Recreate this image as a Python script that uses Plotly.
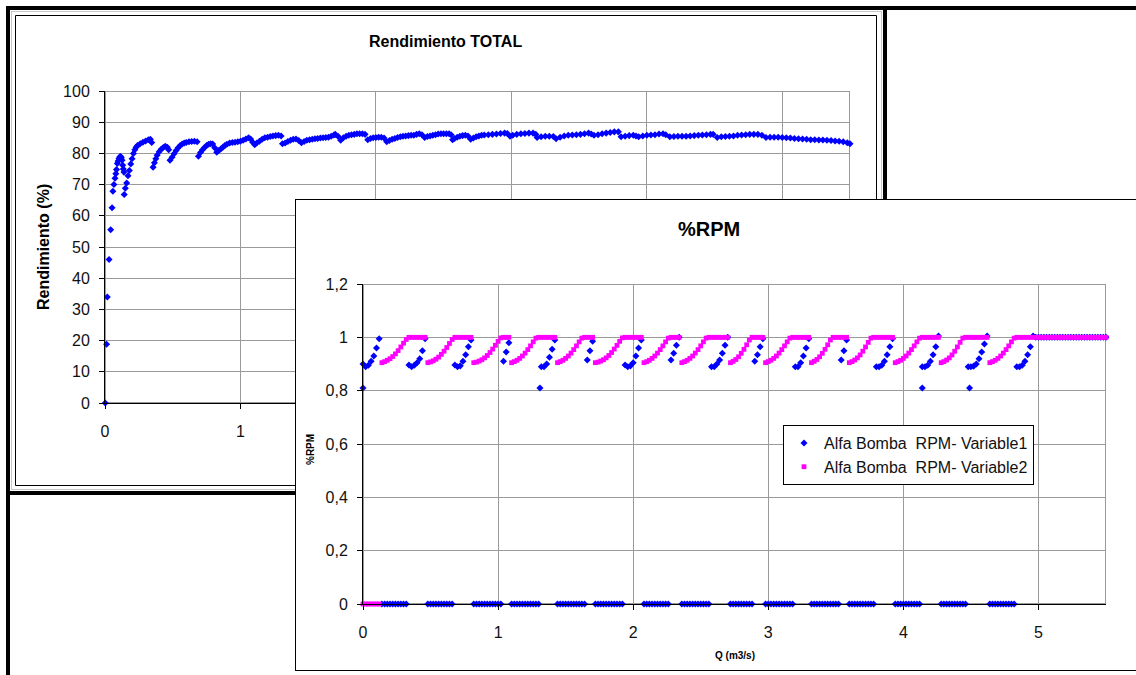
import plotly.graph_objects as go

W, H = 1136, 675

# ---------------- Chart 1: Rendimiento TOTAL ----------------
REND_Q = [
    0.002, 0.012, 0.017, 0.030, 0.042, 0.052, 0.058, 0.066, 0.074, 0.080,
    0.085, 0.091, 0.097, 0.103, 0.110, 0.116, 0.121, 0.126, 0.131, 0.135,
    0.140, 0.142, 0.150, 0.160, 0.170, 0.180, 0.190, 0.200, 0.210, 0.220,
    0.230, 0.240, 0.260, 0.280, 0.300, 0.320, 0.335, 0.345, 0.355, 0.365,
    0.375, 0.385, 0.400, 0.415, 0.430, 0.445, 0.460, 0.470, 0.480, 0.495,
    0.510, 0.525, 0.540, 0.555, 0.570, 0.585, 0.600, 0.620, 0.640, 0.660,
    0.680, 0.690, 0.705, 0.720, 0.735, 0.750, 0.765, 0.780, 0.795, 0.810,
    0.825, 0.840, 0.855, 0.870, 0.885, 0.900, 0.920, 0.940, 0.960, 0.980,
    1.000, 1.020, 1.040, 1.060, 1.075, 1.090, 1.105, 1.120, 1.140, 1.160,
    1.180, 1.200, 1.220, 1.240, 1.260, 1.280, 1.300, 1.310, 1.330, 1.350,
    1.370, 1.390, 1.410, 1.430, 1.450, 1.470, 1.490, 1.510, 1.530, 1.550,
    1.570, 1.590, 1.610, 1.630, 1.650, 1.670, 1.690, 1.700, 1.720, 1.740,
    1.760, 1.780, 1.800, 1.820, 1.840, 1.860, 1.880, 1.900, 1.920, 1.940,
    1.960, 1.980, 2.000, 2.020, 2.040, 2.060, 2.080, 2.100, 2.120, 2.140,
    2.160, 2.180, 2.200, 2.220, 2.240, 2.260, 2.280, 2.300, 2.320, 2.340,
    2.360, 2.380, 2.400, 2.420, 2.440, 2.460, 2.480, 2.500, 2.520, 2.540,
    2.555, 2.566, 2.580, 2.600, 2.620, 2.640, 2.660, 2.680, 2.700, 2.720,
    2.740, 2.760, 2.780, 2.800, 2.830, 2.860, 2.890, 2.920, 2.950, 2.970,
    2.990, 3.010, 3.040, 3.070, 3.100, 3.130, 3.160, 3.180, 3.190, 3.220,
    3.250, 3.280, 3.310, 3.330, 3.360, 3.390, 3.420, 3.450, 3.480, 3.510,
    3.540, 3.570, 3.590, 3.610, 3.640, 3.670, 3.700, 3.730, 3.760, 3.790,
    3.810, 3.840, 3.870, 3.900, 3.920, 3.940, 3.970, 4.000, 4.030, 4.060,
    4.090, 4.120, 4.140, 4.170, 4.200, 4.230, 4.260, 4.290, 4.320, 4.350,
    4.380, 4.410, 4.440, 4.470, 4.490, 4.520, 4.550, 4.580, 4.610, 4.640,
    4.670, 4.700, 4.730, 4.760, 4.790, 4.820, 4.850, 4.880, 4.910, 4.940,
    4.970, 5.000, 5.030, 5.060, 5.090, 5.120, 5.150, 5.180, 5.210, 5.240,
    5.270, 5.300, 5.330, 5.360, 5.390, 5.420, 5.450, 5.480, 5.500,
]
REND = [
    0.0, 18.8, 34.0, 46.0, 55.5, 62.6, 67.9, 70.0, 72.0, 73.5,
    74.8, 76.8, 77.6, 78.4, 78.9, 79.0, 78.6, 77.8, 76.2, 75.0,
    74.0, 66.8, 68.8, 70.5, 72.8, 74.5, 76.6, 78.3, 80.0, 81.2,
    82.0, 82.5, 83.1, 83.6, 84.0, 84.4, 84.5, 83.5, 75.6, 77.0,
    78.3, 79.4, 80.5, 81.3, 81.9, 82.3, 82.0, 81.2, 77.8, 78.8,
    79.9, 80.9, 81.8, 82.5, 83.0, 83.3, 83.5, 83.7, 83.8, 83.9,
    83.7, 79.1, 80.3, 81.2, 81.9, 82.5, 82.9, 83.1, 83.0, 81.8,
    80.4, 80.9, 81.4, 82.0, 82.5, 82.9, 83.3, 83.5, 83.6, 83.7,
    83.9, 84.2, 84.6, 85.0, 84.6, 83.6, 82.8, 83.3, 83.9, 84.5,
    85.0, 85.2, 85.4, 85.6, 85.7, 85.8, 85.6, 83.1, 83.3, 83.8,
    84.2, 84.5, 84.6, 84.1, 83.4, 83.8, 84.2, 84.4, 84.5, 84.7,
    84.8, 84.9, 85.0, 85.1, 85.2, 85.5, 85.9, 86.1, 85.5, 84.2,
    85.0, 85.5, 85.8, 86.0, 86.1, 86.3, 86.3, 86.3, 86.1, 84.4,
    84.8, 85.0, 85.1, 85.2, 85.2, 84.9, 83.7, 84.1, 84.5, 84.8,
    85.1, 85.3, 85.5, 85.6, 85.7, 85.8, 85.8, 86.1, 86.3, 86.0,
    85.1, 85.4, 85.6, 85.8, 86.0, 86.2, 86.3, 86.3, 86.3, 86.3,
    86.0, 84.4, 84.8, 85.2, 85.5, 85.7, 85.8, 85.6, 84.5, 84.9,
    85.3, 85.6, 85.8, 85.9, 86.0, 86.1, 86.2, 86.4, 86.5, 86.4,
    85.5, 85.8, 86.1, 86.3, 86.4, 86.5, 86.5, 86.1, 85.1, 85.3,
    85.5, 85.5, 85.4, 84.7, 85.2, 85.6, 85.8, 85.9, 86.0, 86.1,
    86.3, 86.5, 86.2, 85.8, 86.0, 86.3, 86.5, 86.7, 86.9, 86.9,
    85.3, 85.5, 85.7, 85.8, 85.6, 85.3, 85.6, 85.8, 85.9, 86.0,
    86.2, 86.3, 86.0, 85.3, 85.4, 85.5, 85.5, 85.5, 85.6, 85.7,
    85.8, 85.9, 86.0, 86.1, 86.1, 85.1, 85.3, 85.4, 85.5, 85.6,
    85.8, 85.9, 86.0, 86.1, 86.1, 86.1, 85.8, 85.1, 85.2, 85.2,
    85.2, 85.1, 85.0, 84.9, 84.8, 84.7, 84.6, 84.5, 84.4, 84.4,
    84.3, 84.3, 84.2, 84.1, 84.0, 83.9, 83.7, 83.4, 83.1,
]
REND_XTICKS = [0, 1, 2, 3, 4, 5]
REND_YTICKS = [0, 10, 20, 30, 40, 50, 60, 70, 80, 90, 100]

# ---------------- Chart 2: %RPM ----------------
Q_RPM = [
    0.00, 0.02, 0.04, 0.06, 0.08, 0.10, 0.12, 0.14, 0.16, 0.18,
    0.20, 0.22, 0.24, 0.26, 0.28, 0.30, 0.32, 0.34, 0.36, 0.38,
    0.40, 0.42, 0.44, 0.46, 0.48, 0.50, 0.52, 0.54, 0.56, 0.58,
    0.60, 0.62, 0.64, 0.66, 0.68, 0.70, 0.72, 0.74, 0.76, 0.78,
    0.80, 0.82, 0.84, 0.86, 0.88, 0.90, 0.92, 0.94, 0.96, 0.98,
    1.00, 1.02, 1.04, 1.06, 1.08, 1.10, 1.12, 1.14, 1.16, 1.18,
    1.20, 1.22, 1.24, 1.26, 1.28, 1.30, 1.32, 1.34, 1.36, 1.38,
    1.40, 1.42, 1.44, 1.46, 1.48, 1.50, 1.52, 1.54, 1.56, 1.58,
    1.60, 1.62, 1.64, 1.66, 1.68, 1.70, 1.72, 1.74, 1.76, 1.78,
    1.80, 1.82, 1.84, 1.86, 1.88, 1.90, 1.92, 1.94, 1.96, 1.98,
    2.00, 2.02, 2.04, 2.06, 2.08, 2.10, 2.12, 2.14, 2.16, 2.18,
    2.20, 2.22, 2.24, 2.26, 2.28, 2.30, 2.32, 2.34, 2.36, 2.38,
    2.40, 2.42, 2.44, 2.46, 2.48, 2.50, 2.52, 2.54, 2.56, 2.58,
    2.60, 2.62, 2.64, 2.66, 2.68, 2.70, 2.72, 2.74, 2.76, 2.78,
    2.80, 2.82, 2.84, 2.86, 2.88, 2.90, 2.92, 2.94, 2.96, 2.98,
    3.00, 3.02, 3.04, 3.06, 3.08, 3.10, 3.12, 3.14, 3.16, 3.18,
    3.20, 3.22, 3.24, 3.26, 3.28, 3.30, 3.32, 3.34, 3.36, 3.38,
    3.40, 3.42, 3.44, 3.46, 3.48, 3.50, 3.52, 3.54, 3.56, 3.58,
    3.60, 3.62, 3.64, 3.66, 3.68, 3.70, 3.72, 3.74, 3.76, 3.78,
    3.80, 3.82, 3.84, 3.86, 3.88, 3.90, 3.92, 3.94, 3.96, 3.98,
    4.00, 4.02, 4.04, 4.06, 4.08, 4.10, 4.12, 4.14, 4.16, 4.18,
    4.20, 4.22, 4.24, 4.26, 4.28, 4.30, 4.32, 4.34, 4.36, 4.38,
    4.40, 4.42, 4.44, 4.46, 4.48, 4.50, 4.52, 4.54, 4.56, 4.58,
    4.60, 4.62, 4.64, 4.66, 4.68, 4.70, 4.72, 4.74, 4.76, 4.78,
    4.80, 4.82, 4.84, 4.86, 4.88, 4.90, 4.92, 4.94, 4.96, 4.98,
    5.00, 5.02, 5.04, 5.06, 5.08, 5.10, 5.12, 5.14, 5.16, 5.18,
    5.20, 5.22, 5.24, 5.26, 5.28, 5.30, 5.32, 5.34, 5.36, 5.38,
    5.40, 5.42, 5.44, 5.46, 5.48, 5.50,
]
# Variable 1 (blue): pump 1 speed ratio, 0 while pump 2 ramps
RPM_VAR1 = [
    0.900, 0.890, 0.895, 0.910, 0.930, 0.960, 0.995,
    0, 0, 0, 0, 0, 0, 0, 0, 0, 0,
    0.896, 0.890, 0.895, 0.905, 0.920, 0.950, 0.995,
    0, 0, 0, 0, 0, 0, 0, 0, 0, 0,
    0.896, 0.890, 0.893, 0.910, 0.935, 0.965, 0.990,
    0, 0, 0, 0, 0, 0, 0, 0, 0, 0, 0,
    0.910, 0.945, 0.980,
    0, 0, 0, 0, 0, 0, 0, 0, 0, 0, 0,
    0.890, 0.890, 0.900, 0.925, 0.955, 0.990,
    0, 0, 0, 0, 0, 0, 0, 0, 0, 0, 0,
    0.915, 0.950, 0.985,
    0, 0, 0, 0, 0, 0, 0, 0, 0, 0, 0,
    0.896, 0.890, 0.893, 0.905, 0.930, 0.960, 0.990,
    0, 0, 0, 0, 0, 0, 0, 0, 0, 0,
    0.915, 0.940, 0.970, 1.000,
    0, 0, 0, 0, 0, 0, 0, 0, 0, 0, 0,
    0.890, 0.890, 0.900, 0.915, 0.940, 0.970, 1.000,
    0, 0, 0, 0, 0, 0, 0, 0, 0,
    0.910, 0.935, 0.965, 0.995,
    0, 0, 0, 0, 0, 0, 0, 0, 0, 0, 0,
    0.890, 0.890, 0.905, 0.930, 0.960, 0.995,
    0, 0, 0, 0, 0, 0, 0, 0, 0, 0, 0,
    0.915, 0.950, 0.990,
    0, 0, 0, 0, 0, 0, 0, 0, 0, 0,
    0.890, 0.890, 0.895, 0.910, 0.935, 0.965, 0.995,
    0, 0, 0, 0, 0, 0, 0, 0, 0, 0,
    0.890, 0.890, 0.895, 0.910, 0.935, 0.965, 1.005,
    0, 0, 0, 0, 0, 0, 0, 0, 0, 0,
    0.890, 0.890, 0.892, 0.900, 0.920, 0.945, 0.975, 1.005,
    0, 0, 0, 0, 0, 0, 0, 0, 0, 0,
    0.890, 0.890, 0.895, 0.910, 0.935, 0.965, 1.005,
    1, 1, 1, 1, 1, 1, 1, 1, 1, 1, 1, 1, 1, 1, 1, 1, 1, 1, 1, 1,
    1, 1, 1, 1, 1, 1, 1,
]
# isolated blue points at 0.81
Q_OUT = [0.00, 1.31, 4.14, 4.49]
RPM_OUT = [0.81, 0.81, 0.81, 0.81]
# Variable 2 (magenta)
RPM_VAR2 = [
    0, 0, 0, 0, 0, 0, 0,
    0.905, 0.909, 0.914, 0.920, 0.928, 0.938, 0.950, 0.964, 0.978, 0.992,
    1, 1, 1, 1, 1, 1, 1,
    0.905, 0.908, 0.912, 0.918, 0.926, 0.936, 0.948, 0.962, 0.977, 0.992,
    1, 1, 1, 1, 1, 1, 1,
    0.905, 0.907, 0.911, 0.916, 0.923, 0.932, 0.943, 0.956, 0.970, 0.985, 0.998,
    1, 1, 1,
    0.905, 0.909, 0.914, 0.921, 0.930, 0.941, 0.954, 0.968, 0.983, 0.997, 1,
    1, 1, 1, 1, 1, 1,
    0.905, 0.909, 0.914, 0.921, 0.930, 0.941, 0.954, 0.968, 0.983, 0.997, 1,
    1, 1, 1,
    0.905, 0.907, 0.911, 0.916, 0.923, 0.932, 0.943, 0.956, 0.970, 0.985, 0.998,
    1, 1, 1, 1, 1, 1, 1,
    0.905, 0.909, 0.914, 0.921, 0.930, 0.941, 0.954, 0.968, 0.983, 0.997,
    1, 1, 1, 1,
    0.905, 0.909, 0.914, 0.921, 0.930, 0.941, 0.954, 0.968, 0.983, 0.997, 1,
    1, 1, 1, 1, 1, 1, 1,
    0.905, 0.910, 0.917, 0.927, 0.940, 0.955, 0.972, 0.990, 1,
    1, 1, 1, 1,
    0.905, 0.909, 0.914, 0.921, 0.930, 0.941, 0.954, 0.968, 0.983, 0.997, 1,
    1, 1, 1, 1, 1, 1,
    0.905, 0.910, 0.917, 0.927, 0.940, 0.955, 0.972, 0.990, 1, 1, 1,
    1, 1, 1,
    0.905, 0.909, 0.915, 0.923, 0.934, 0.948, 0.964, 0.981, 0.997, 1,
    1, 1, 1, 1, 1, 1, 1,
    0.905, 0.909, 0.914, 0.921, 0.930, 0.941, 0.954, 0.968, 0.983, 0.997,
    1, 1, 1, 1, 1, 1, 1,
    0.905, 0.909, 0.915, 0.923, 0.934, 0.948, 0.964, 0.981, 0.997, 1,
    1, 1, 1, 1, 1, 1, 1, 1,
    0.905, 0.909, 0.914, 0.921, 0.930, 0.941, 0.954, 0.968, 0.983, 0.997,
    1, 1, 1, 1, 1, 1, 1,
    1, 1, 1, 1, 1, 1, 1, 1, 1, 1, 1, 1, 1, 1, 1, 1, 1, 1, 1, 1,
    1, 1, 1, 1, 1, 1, 1,
]
RPM_XTICKS = [0, 1, 2, 3, 4, 5]
RPM_YTICKS = [0, 0.2, 0.4, 0.6, 0.8, 1.0, 1.2]
SERIES_NAMES = ["Alfa Bomba\u00a0 RPM- Variable1", "Alfa Bomba\u00a0 RPM- Variable2"]

FONT = "Liberation Sans, Arial, sans-serif"
BLUE = "#0000FF"
MAGENTA = "#FF00FF"
GRID = "#9a9a9a"


def fx(p):
    return p / W


def fy(p):
    return 1 - p / H


fig = go.Figure()
fig.add_trace(go.Scatter(
    x=REND_Q, y=REND, mode="markers", xaxis="x", yaxis="y",
    marker=dict(symbol="diamond", size=5.4, color=BLUE, line=dict(width=0)),
    showlegend=False, cliponaxis=False, hoverinfo="skip"))
# empty trace to create the background panel subplot of the second chart
fig.add_trace(go.Scatter(x=[], y=[], xaxis="x2", yaxis="y2", showlegend=False, hoverinfo="skip"))
fig.add_trace(go.Scatter(
    x=Q_RPM + Q_OUT, y=RPM_VAR1 + RPM_OUT, mode="markers", xaxis="x3", yaxis="y3",
    name=SERIES_NAMES[0],
    marker=dict(symbol="diamond", size=5.4, color=BLUE, line=dict(width=0)),
    cliponaxis=False, hoverinfo="skip"))
fig.add_trace(go.Scatter(
    x=Q_RPM, y=RPM_VAR2, mode="markers", xaxis="x3", yaxis="y3",
    name=SERIES_NAMES[1],
    marker=dict(symbol="square", size=4.8, color=MAGENTA, line=dict(width=0)),
    cliponaxis=False, hoverinfo="skip"))

tickfont = dict(family=FONT, size=16, color="#111111")
common = dict(showgrid=True, gridcolor=GRID, gridwidth=1, zeroline=False,
              showline=True, linecolor="black", linewidth=1, automargin=False,
              ticks="outside", ticklen=5, tickcolor="black", tickwidth=1,
              tickfont=tickfont, fixedrange=True)
dummy = dict(showgrid=False, zeroline=False, showticklabels=False, ticks="",
             showline=True, linecolor="black", linewidth=1, fixedrange=True,
             automargin=False, range=[0, 1])

fig.update_layout(
    template="none",
    width=W, height=H, autosize=False,
    margin=dict(l=0, r=0, t=0, b=0, pad=0, autoexpand=False),
    paper_bgcolor="white", plot_bgcolor="white",
    separators=",.",
    font=dict(family=FONT, color="black"),
    xaxis=dict(domain=[fx(105), fx(850)], range=[0, 5.5], anchor="y",
               tickmode="array", tickvals=REND_XTICKS, ticklabelstandoff=9, **common),
    yaxis=dict(domain=[fy(403), fy(91)], range=[0, 100], anchor="x",
               tickmode="array", tickvals=REND_YTICKS, ticklabelstandoff=6, **common),
    xaxis2=dict(domain=[fx(296), 1], anchor="y2", mirror=True, **dummy),
    yaxis2=dict(domain=[fy(670), fy(200)], anchor="x2", mirror=False, **dummy),
    xaxis3=dict(domain=[fx(363), fx(1106)], range=[0, 5.5], anchor="y3",
                tickmode="array", tickvals=RPM_XTICKS, ticklabelstandoff=9, **common),
    yaxis3=dict(domain=[fy(604), fy(284)], range=[0, 1.2], anchor="x3",
                tickmode="array", tickvals=RPM_YTICKS, ticklabelstandoff=6, **common),
    legend=dict(x=fx(783), y=fy(425), xanchor="left", yanchor="top",
                bgcolor="white", bordercolor="black", borderwidth=1,
                font=dict(family=FONT, size=16, color="#111111"),
                itemsizing="trace", tracegroupgap=0),
    showlegend=True,
)

shapes = []
# Excel cell borders (thick lines)
thick = dict(type="line", xref="paper", yref="paper", line=dict(color="black", width=4), layer="below")
shapes.append(dict(thick, x0=fx(6), x1=1, y0=fy(8), y1=fy(8)))
shapes.append(dict(thick, x0=fx(8), x1=fx(8), y0=fy(6), y1=0))
shapes.append(dict(thick, x0=fx(885), x1=fx(885), y0=fy(6), y1=fy(200)))
shapes.append(dict(thick, x0=fx(6), x1=fx(296), y0=fy(493), y1=fy(493)))
# light cell grid lines
thin = dict(type="line", xref="paper", yref="paper", line=dict(color="#c8c8c8", width=1), layer="below")
shapes.append(dict(thin, x0=fx(11.5), x1=fx(11.5), y0=fy(11), y1=fy(490)))
shapes.append(dict(thin, x0=fx(11), x1=fx(881), y0=fy(11.5), y1=fy(11.5)))
shapes.append(dict(thin, x0=fx(881.5), x1=fx(881.5), y0=fy(11), y1=fy(490)))
shapes.append(dict(thin, x0=fx(11), x1=fx(881), y0=fy(489.5), y1=fy(489.5)))
# chart 1 outer frame
shapes.append(dict(type="rect", xref="paper", yref="paper", x0=fx(15.5), x1=fx(876.5),
                   y0=fy(485.5), y1=fy(15.5), line=dict(color="black", width=1),
                   fillcolor="rgba(0,0,0,0)", layer="below"))
# grey plot-area frames (top / right)
shapes.append(dict(type="rect", xref="x", yref="y", x0=0, x1=5.5, y0=0, y1=100,
                   line=dict(color=GRID, width=2), layer="below"))
shapes.append(dict(type="rect", xref="x3", yref="y3", x0=0, x1=5.5, y0=0, y1=1.2,
                   line=dict(color=GRID, width=2), layer="between"))
fig.update_layout(shapes=shapes)

ann = []
ann.append(dict(text="Rendimiento TOTAL", x=fx(445), y=fy(41), xref="paper", yref="paper",
                showarrow=False, xanchor="center", yanchor="middle",
                font=dict(family=FONT, size=16, color="black", weight="bold")))
ann.append(dict(text="Rendimiento (%)", x=fx(43), y=fy(247), xref="paper", yref="paper",
                showarrow=False, xanchor="center", yanchor="middle", textangle=-90,
                font=dict(family=FONT, size=16, color="black", weight="bold")))
ann.append(dict(text="%RPM", x=fx(709), y=fy(229), xref="paper", yref="paper",
                showarrow=False, xanchor="center", yanchor="middle",
                font=dict(family=FONT, size=20, color="black", weight="bold")))
ann.append(dict(text="%RPM", x=fx(310), y=fy(450), xref="paper", yref="paper",
                showarrow=False, xanchor="center", yanchor="middle", textangle=-90,
                font=dict(family=FONT, size=10, color="black", weight="bold")))
ann.append(dict(text="Q (m3/s)", x=fx(735), y=fy(655), xref="paper", yref="paper",
                showarrow=False, xanchor="center", yanchor="middle",
                font=dict(family=FONT, size=10, color="black", weight="bold")))
fig.update_layout(annotations=ann)

fig.write_html(
    "out.html",
    post_script="document.documentElement.style.margin='0';document.body.style.margin='0';"
                "document.body.style.overflow='hidden';",
)
